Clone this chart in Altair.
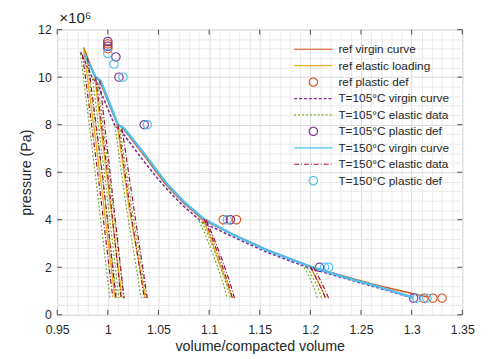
import altair as alt
import pandas as pd

FONT = "Liberation Sans"
TXT = "#262626"

# ---------------- data (pressure in MPa, axis shows x1e6 Pa) -------------
ref_virgin_v = [0.976, 0.987, 0.992, 1.009, 1.015, 1.035, 1.049, 1.058, 1.075, 1.094, 1.120, 1.156, 1.200, 1.235, 1.263, 1.315]
ref_virgin_p = [11.25, 10.05, 9.85, 8.05, 7.85, 6.75, 5.95, 5.45, 4.70, 4.00, 3.45, 2.75, 2.03, 1.60, 1.27, 0.75]

t105_virgin_v = [0.973, 0.985, 0.990, 1.007, 1.013, 1.033, 1.047, 1.057, 1.074, 1.093, 1.120, 1.156, 1.198, 1.235, 1.263, 1.300]
t105_virgin_p = [11.05, 9.95, 9.70, 7.95, 7.75, 6.60, 5.85, 5.35, 4.60, 3.90, 3.35, 2.65, 1.98, 1.52, 1.18, 0.72]

t150_virgin_v = [0.977, 0.988, 0.993, 1.010, 1.016, 1.036, 1.050, 1.059, 1.076, 1.095, 1.121, 1.157, 1.200, 1.236, 1.264, 1.302]
t150_virgin_p = [10.95, 10.00, 9.85, 8.00, 7.85, 6.78, 5.98, 5.48, 4.72, 4.03, 3.43, 2.72, 2.03, 1.55, 1.22, 0.72]

ref_elastic_v = [[0.976, 0.992, 1.007], [0.987, 1.000, 1.014], [1.009, 1.021, 1.037],
                 [1.094, 1.101, 1.110, 1.118, 1.123], [1.200, 1.205, 1.211, 1.215]]
ref_elastic_p = [[11.25, 6.0, 0.7], [10.05, 5.5, 0.7], [8.05, 4.5, 0.7],
                 [4.0, 3.3, 2.2, 1.3, 0.7], [2.03, 1.6, 1.1, 0.7]]

t105_elastic_v = [[0.973, 0.986, 1.002], [0.978, 0.994, 1.009],
                  [0.985, 0.998, 1.011], [0.990, 1.003, 1.016],
                  [1.007, 1.018, 1.033], [1.012, 1.024, 1.038],
                  [1.090, 1.097, 1.106, 1.114, 1.118], [1.093, 1.100, 1.109, 1.117, 1.121],
                  [1.194, 1.199, 1.204, 1.207], [1.197, 1.202, 1.208, 1.211]]
t105_elastic_p = [[11.0, 6.5, 0.7], [11.1, 6.0, 0.7],
                  [9.95, 5.5, 0.7], [9.8, 5.3, 0.7],
                  [7.95, 4.6, 0.7], [7.8, 4.4, 0.7],
                  [3.95, 3.3, 2.3, 1.3, 0.7], [3.9, 3.25, 2.25, 1.3, 0.7],
                  [2.0, 1.6, 1.1, 0.7], [1.98, 1.6, 1.1, 0.7]]

t150_elastic_v = [[0.975, 0.990, 1.005], [0.980, 0.995, 1.008],
                  [0.988, 1.001, 1.013], [0.992, 1.004, 1.016],
                  [1.010, 1.022, 1.036], [1.014, 1.026, 1.039],
                  [1.095, 1.102, 1.111, 1.119, 1.123], [1.097, 1.104, 1.113, 1.121, 1.125],
                  [1.200, 1.205, 1.211, 1.215], [1.203, 1.208, 1.214, 1.218]]
t150_elastic_p = [[10.95, 6.0, 0.7], [10.8, 5.8, 0.7],
                  [10.0, 5.5, 0.7], [9.85, 5.3, 0.7],
                  [8.0, 4.5, 0.7], [7.85, 4.4, 0.7],
                  [4.03, 3.35, 2.3, 1.3, 0.7], [4.0, 3.3, 2.3, 1.3, 0.7],
                  [2.03, 1.6, 1.1, 0.7], [2.0, 1.6, 1.1, 0.7]]

ref_plastic_v = [1.000, 1.000, 1.114, 1.127, 1.312, 1.321, 1.330]
ref_plastic_p = [11.40, 11.20, 4.00, 4.00, 0.70, 0.70, 0.70]
t105_plastic_v = [1.000, 1.000, 1.008, 1.011, 1.036, 1.121, 1.209, 1.302]
t105_plastic_p = [11.50, 11.30, 10.85, 10.00, 8.00, 4.00, 2.00, 0.70]
t150_plastic_v = [1.000, 1.006, 1.015, 1.039, 1.118, 1.214, 1.218, 1.305, 1.315]
t150_plastic_p = [11.00, 10.55, 10.00, 8.00, 4.00, 2.00, 2.00, 0.70, 0.70]

SERIES = ["ref virgin curve", "ref elastic loading", "ref plastic def",
          "T=105°C virgin curve", "T=105°C elastic data", "T=105°C plastic def",
          "T=150°C virgin curve", "T=150°C elastic data", "T=150°C plastic def"]
COLORS = ["#D95319", "#EDB120", "#D95319",
          "#7E2F8E", "#77AC30", "#7E2F8E",
          "#4DBEEE", "#A2142F", "#4DBEEE"]
SHAPES = ["stroke", "stroke", "circle", "stroke", "stroke", "circle", "stroke", "stroke", "circle"]
DASHES = [[1, 0], [1, 0], [1, 0], [3, 2], [2, 2], [1, 0], [1, 0], [5, 2, 1, 2], [1, 0]]
SIZES = [1521, 1521, 72, 1521, 1521, 72, 1521, 1521, 72]

x_major = [0.95, 1.0, 1.05, 1.1, 1.15, 1.2, 1.25, 1.3, 1.35]
y_major = [0, 2, 4, 6, 8, 10, 12]
x_grid = [round(0.95 + 0.01 * i, 2) for i in range(41)]
y_grid = [round(0.4 * i, 1) for i in range(31)]


def lines_df(series, vs_list, ps_list):
    rows = []
    for i, (vs, ps) in enumerate(zip(vs_list, ps_list)):
        for j, (v, p) in enumerate(zip(vs, ps)):
            rows.append({"series": series, "line": f"{series}-{i}", "order": j, "v": v, "p": p})
    return pd.DataFrame(rows)


def pts_df(series, vs, ps):
    return pd.DataFrame({"series": series, "v": vs, "p": ps})


xscale = alt.Scale(domain=[0.95, 1.35], nice=False, zero=False)
yscale = alt.Scale(domain=[0, 12], nice=False, zero=False)

xaxis = alt.Axis(
    values=x_grid, title="volume/compacted volume", grid=True,
    gridColor={"condition": {"test": "round(datum.value*100) % 5 == 0", "value": "#dcdcdc"}, "value": "#ebebeb"},
    gridWidth=1, ticks=False, tickSize=0, domain=False,
    labelExpr="round(datum.value*100) % 5 == 0 ? format(datum.value, '~g') : ''",
    labelOverlap=False, labelFlush=False, labelPadding=9, labelFontSize=12.5,
    labelColor=TXT, labelFont=FONT, titleFont=FONT, titleFontSize=14.5, titleFontWeight="normal",
    titleColor=TXT, titlePadding=4,
)
yaxis = alt.Axis(
    values=y_grid, title="pressure (Pa)", grid=True,
    gridColor={"condition": {"test": "round(datum.value*10) % 20 == 0", "value": "#dcdcdc"}, "value": "#ebebeb"},
    gridWidth=1, ticks=False, tickSize=0, domain=False,
    labelExpr="round(datum.value*10) % 20 == 0 ? format(datum.value, '~g') : ''",
    labelOverlap=False, labelFlush=False, labelPadding=6, labelFontSize=12.5,
    labelColor=TXT, labelFont=FONT, titleFont=FONT, titleFontSize=14.5, titleFontWeight="normal",
    titleColor=TXT, titlePadding=4,
)

legend = alt.Legend(
    orient="none", legendX=240, legendY=14, title=None,
    symbolType="stroke", symbolSize=1521, symbolStrokeWidth=1.2,
    symbolFillColor="transparent",
    clipHeight=12, rowPadding=4.7, labelOffset=5, labelFontSize=12,
    labelColor=TXT, labelFont=FONT, padding=0, labelLimit=250,
)

cscale = alt.Scale(domain=SERIES, range=COLORS)
dscale = alt.Scale(domain=SERIES, range=DASHES)
sscale = alt.Scale(domain=SERIES, range=SHAPES)
zscale = alt.Scale(type="ordinal", domain=SERIES, range=SIZES)


def enc(points=False):
    d = dict(
        x=alt.X("v:Q", scale=xscale, axis=xaxis),
        y=alt.Y("p:Q", scale=yscale, axis=yaxis),
        color=alt.Color("series:N", scale=cscale, legend=legend),
        strokeDash=alt.StrokeDash("series:N", scale=dscale, legend=legend),
    )
    if points:
        d["shape"] = alt.Shape("series:N", scale=sscale, legend=legend)
        d["size"] = alt.Size("series:N", scale=zscale, legend=legend)
    return d


def line_layer(df, width):
    return alt.Chart(df).mark_line(strokeWidth=width, clip=True).encode(
        detail="line:N", order="order:Q", **enc())


def point_layer(df):
    return alt.Chart(df).mark_point(filled=False, strokeWidth=1.1, opacity=1).encode(**enc(points=True))


layers = [
    line_layer(lines_df(SERIES[0], [ref_virgin_v], [ref_virgin_p]), 1.6),
    line_layer(lines_df(SERIES[1], ref_elastic_v, ref_elastic_p), 1.4),
    point_layer(pts_df(SERIES[2], ref_plastic_v, ref_plastic_p)),
    line_layer(lines_df(SERIES[3], [t105_virgin_v], [t105_virgin_p]), 1.6),
    line_layer(lines_df(SERIES[4], t105_elastic_v, t105_elastic_p), 1.2),
    point_layer(pts_df(SERIES[5], t105_plastic_v, t105_plastic_p)),
    line_layer(lines_df(SERIES[6], [t150_virgin_v], [t150_virgin_p]), 2.4),
    line_layer(lines_df(SERIES[7], t150_elastic_v, t150_elastic_p), 1.2),
    point_layer(pts_df(SERIES[8], t150_plastic_v, t150_plastic_p)),
]

# inward tick marks on all four sides (MATLAB box style)
xt = pd.DataFrame({"v": x_major})
yt = pd.DataFrame({"p": y_major})
tick_color = "#4d4d4d"
xe = dict(x=alt.X("v:Q", scale=xscale, axis=xaxis))
ye = dict(y=alt.Y("p:Q", scale=yscale, axis=yaxis))
layers += [
    alt.Chart(xt).mark_rule(color=tick_color, strokeWidth=1).encode(y=alt.value(290), y2=alt.value(285), **xe),
    alt.Chart(xt).mark_rule(color=tick_color, strokeWidth=1).encode(y=alt.value(0), y2=alt.value(5), **xe),
    alt.Chart(yt).mark_rule(color=tick_color, strokeWidth=1).encode(x=alt.value(0), x2=alt.value(5), **ye),
    alt.Chart(yt).mark_rule(color=tick_color, strokeWidth=1).encode(x=alt.value(412), x2=alt.value(407), **ye),
]

chart = alt.layer(*layers).properties(
    width=412, height=290,
    title=alt.TitleParams("×10⁶", anchor="start", frame="group", fontSize=15.5, fontWeight="normal",
                          color=TXT, font=FONT, offset=0, dy=3, dx=2),
    autosize=alt.AutoSizeParams(type="none"),
    padding={"left": 50, "top": 19, "right": 19, "bottom": 42},
).configure_view(stroke="#4d4d4d", strokeWidth=1).configure(background="white")

chart.save("out.html", embed_options={"renderer": "svg", "actions": False})
